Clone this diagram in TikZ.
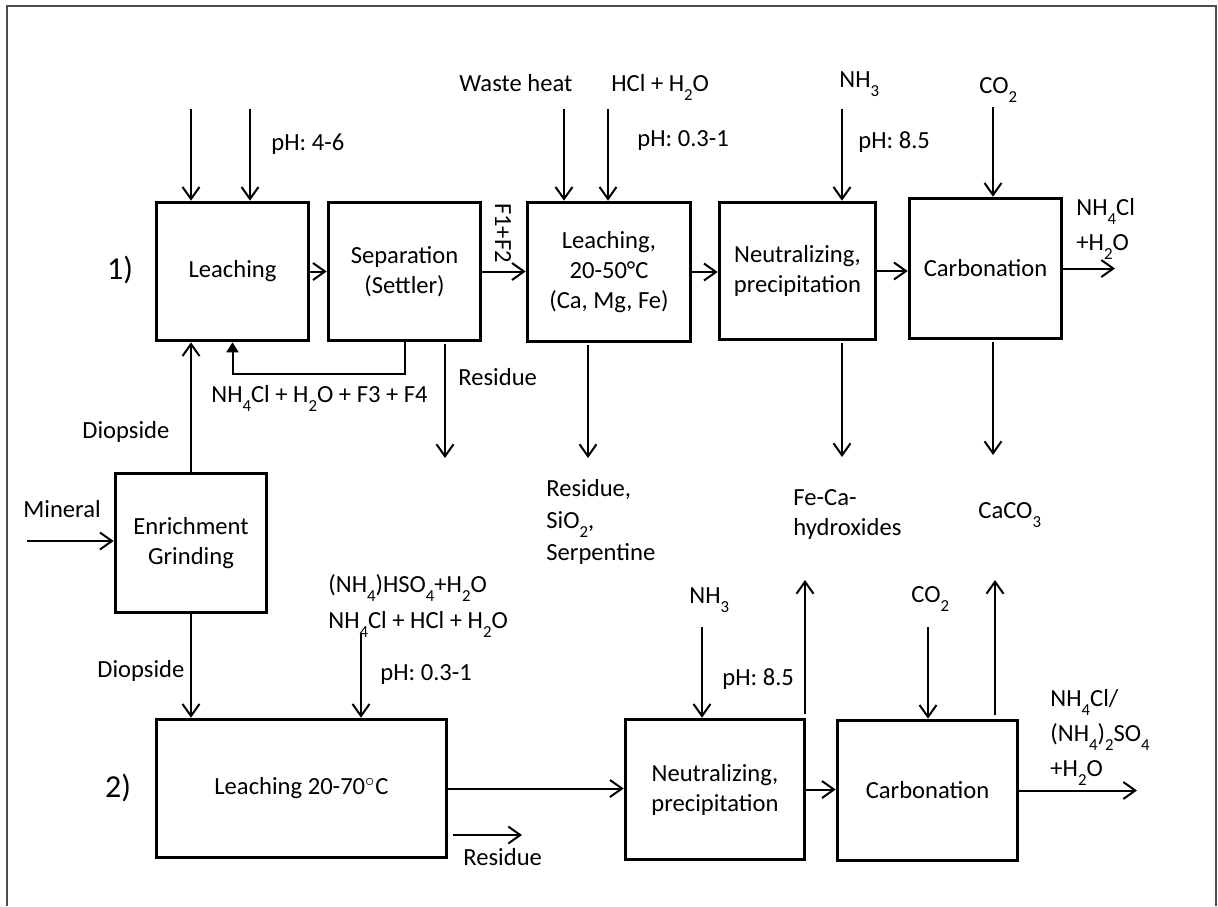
\documentclass[tikz,border=0pt]{standalone}
\usepackage{fontspec}
\setmainfont{Carlito}
\usetikzlibrary{calc,arrows.meta}

\newcommand{\lo}[1]{\raisebox{-0.38em}{\fontsize{8.4}{9}\selectfont #1}}

\begin{document}
\begin{tikzpicture}[x=0.5pt,y=-0.5pt,
    font=\fontsize{12.3}{15}\selectfont,
    block/.style={draw, line width=1.8pt, align=center, inner sep=1pt},
    flow/.style={line width=1pt, -{Straight Barb[length=6pt,width=8.5pt]}},
    back/.style={line width=1pt, -{Triangle[length=5pt,width=6pt]}},
    lbl/.style={inner sep=0pt, anchor=base west},
    stage/.style={inner sep=0pt, font=\fontsize{16}{19}\selectfont}]
  \useasboundingbox (0,0) rectangle (1218,906);

  %% Frame round the whole scheme
  \draw[line width=0.9pt, black!70] (7,906) -- (7,6) -- (1216,6) -- (1216,906);

  %% Route 1): process blocks
  \node[block, minimum width=76pt,   minimum height=69pt]   (leachA) at (232.5,271.5) {Leaching};
  \node[block, minimum width=76pt,   minimum height=69pt]   (sepA)   at (404.5,271.5) {Separation\\(Settler)};
  \node[block, minimum width=81.5pt, minimum height=69.5pt] (leachB) at (609,272)     {Leaching,\\20-50°C\\(Ca, Mg, Fe)};
  \node[block, minimum width=78pt,   minimum height=68.5pt] (neutA)  at (797.5,271)   {Neutralizing,\\precipitation};
  \node[block, minimum width=76pt,   minimum height=70pt]   (carbA)  at (985.5,268.5) {Carbonation};

  %% Pre-treatment of the mineral
  \node[block, minimum width=75.5pt, minimum height=69.5pt] (enrich) at (191,543) {Enrichment\\Grinding};

  %% Route 2): process blocks
  \node[block, minimum width=145pt,  minimum height=69pt]   (leachC) at (301.5,788.5) {Leaching 20-70$^\circ$C};
  \node[block, minimum width=89.5pt, minimum height=70pt]   (neutB)  at (715,789.5)   {Neutralizing,\\precipitation};
  \node[block, minimum width=90pt,   minimum height=70pt]   (carbB)  at (927.5,790.5) {Carbonation};

  \node[stage] (routeA) at (120,270) {1)};
  \node[stage] (routeB) at (118,788) {2)};

  %% Main flow between the blocks
  \draw[flow] (leachA.east) -- (sepA.west);
  \draw[flow] (sepA.east) -- (leachB.west |- sepA.east);
  \draw[flow] (leachB.east) -- (neutA.west |- leachB.east);
  \draw[flow] (neutA.east) -- (carbA.west |- neutA.east);
  \draw[flow] (leachC.east) -- (neutB.west |- leachC.east);
  \draw[flow] (neutB.east) -- (carbB.west |- neutB.east);
  \draw[flow] (enrich.north) -- (enrich.north |- leachA.south);
  \draw[flow] (enrich.south) -- (enrich.south |- leachC.north);
  \draw[back] (sepA.south) -- ++(0,32) -| (leachA.south);

  %% Feeds from above
  \foreach \nm/\x/\y/\blk in {feedA/191/109/leachA, phA/250/109/leachA,
      heatB/564/109/leachB, acidB/608/109/leachB, ammA/842/109/neutA,
      gasA/993/107/carbA, acidC/361/633/leachC, ammB/702/627/neutB, gasB/928/627/carbB}
  {
    \coordinate (\nm) at (\x,\y);
    \draw[flow] (\nm) -- (\nm |- \blk.north);
  }

  %% Products leaving downwards (route 1) and upwards (route 2)
  \foreach \nm/\x/\y/\blk in {resA/445/458/sepA, resB/588/458/leachB,
      hydrA/842/457/neutA, carbonA/993/455/carbA}
  {
    \coordinate (\nm) at (\x,\y);
    \draw[flow, shorten <=1pt] (\nm |- \blk.south) -- (\nm);
  }
  \foreach \nm/\x/\y/\blk in {hydrB/805/580/neutB, carbonB/995/580/carbB}
  {
    \coordinate (\nm) at (\x,\y);
    \draw[flow, shorten <=2pt] (\nm |- \blk.north) -- (\nm);
  }

  %% Streams to the side
  \coordinate (outA) at (1115,270);
  \coordinate (outB) at (1137,789);
  \coordinate (mineral) at (27,541);
  \coordinate (resC) at (453,835);
  \coordinate (resCend) at (522,835);
  \draw[flow] (carbA.east) -- (outA |- carbA.east);
  \draw[flow] (carbB.east) -- (outB |- carbB.east);
  \draw[flow] (mineral) -- (mineral -| enrich.west);
  \draw[flow] (resC) -- (resCend);

  %% Labels of the streams (multi-line ones sit on their last line)
  \node[lbl] (phAtxt)   at (271,150) {pH: 4-6};
  \node[lbl] (heattxt)  at (459,91)  {Waste heat};
  \node[lbl] (acidBtxt) at (611,91)  {HCl + H\lo{2}O};
  \node[lbl] (phBtxt)   at (637,146) {pH: 0.3-1};
  \node[lbl] (ammAtxt)  at (839,87)  {NH\lo{3}};
  \node[lbl] (phNAtxt)  at (858,148) {pH: 8.5};
  \node[lbl] (gasAtxt)  at (979,93)  {CO\lo{2}};
  \node[lbl, align=left, font=\fontsize{12.3}{17.5}\selectfont] (outAtxt) at (1076,250) {NH\lo{4}Cl\\+H\lo{2}O};
  \node[rotate=-90, inner sep=0pt] (ftxt) at (503,233) {F1+F2};
  \node[lbl] (backtxt)  at (211,402) {NH\lo{4}Cl + H\lo{2}O + F3 + F4};
  \node[lbl] (resAtxt)  at (458,385) {Residue};
  \node[lbl, align=left, font=\fontsize{12.3}{16}\selectfont] (resBtxt) at (546,560) {Residue,\\SiO\lo{2},\\Serpentine};
  \node[lbl, align=left] (hydrtxt) at (793,535) {Fe-Ca-\\hydroxides};
  \node[lbl] (cacotxt)  at (978,518) {CaCO\lo{3}};
  \node[lbl] (diopAtxt) at (82,438)  {Diopside};
  \node[lbl] (mintxt)   at (23,517)  {Mineral};
  \node[lbl] (diopBtxt) at (97,677)  {Diopside};
  \node[lbl, align=left, font=\fontsize{12.3}{18}\selectfont] (acidCtxt) at (328,628) {(NH\lo{4})HSO\lo{4}+H\lo{2}O\\NH\lo{4}Cl + HCl + H\lo{2}O};
  \node[lbl] (phCtxt)   at (380,680) {pH: 0.3-1};
  \node[lbl] (ammBtxt)  at (689,603) {NH\lo{3}};
  \node[lbl] (phNBtxt)  at (722,685) {pH: 8.5};
  \node[lbl] (gasBtxt)  at (911,602) {CO\lo{2}};
  \node[lbl, align=left, font=\fontsize{12.3}{17.5}\selectfont] (outBtxt) at (1050,776) {NH\lo{4}Cl/\\(NH\lo{4})\lo{2}SO\lo{4}\\+H\lo{2}O};
  \node[lbl] (resCtxt)  at (463,865) {Residue};
\end{tikzpicture}
\end{document}
